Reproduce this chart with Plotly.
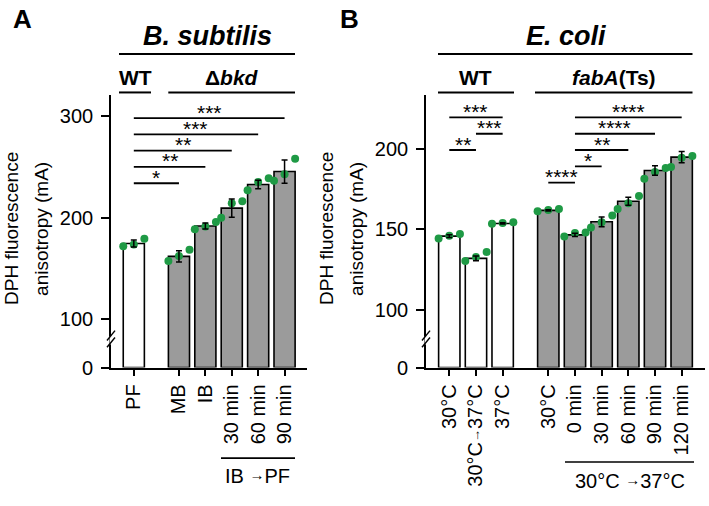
import plotly.graph_objects as go

W, H = 709, 506
FONT = "Arial, 'Liberation Sans', Helvetica, sans-serif"
GREEN = "#1f9a45"
GREY = "#9b9b9b"
ARROW = "<span style='font-size:15px;baseline-shift:3px'>→</span>"

# ---------------- Panel A: B. subtilis ----------------
a_labels = ["PF", "MB", "IB", "30 min", "60 min", "90 min"]
a_strain = ["WT", "Δbkd", "Δbkd", "Δbkd", "Δbkd", "Δbkd"]
a_mean = [174.7, 162.1, 192.0, 209.6, 232.8, 245.6]
a_err = [3.5, 5.5, 3.0, 9.0, 4.2, 11.5]
a_rep1 = [172.1, 157.6, 188.8, 200.0, 227.3, 236.6]
a_rep2 = [173.7, 162.4, 191.4, 214.5, 235.4, 243.0]
a_rep3 = [179.5, 168.6, 195.9, 216.4, 238.9, 258.2]
a_sig_pairs = [(0, 1), (0, 2), (0, 3), (0, 4), (0, 5)]
a_sig_text = ["*", "**", "**", "***", "***"]
a_yticks = [0, 100, 200, 300]

# ---------------- Panel B: E. coli ----------------
b_labels = ["30°C", "30°C<span style='font-size:13px;baseline-shift:2px'>→</span>37°C", "37°C",
            "30°C", "0 min", "30 min", "60 min", "90 min", "120 min"]
b_strain = ["WT", "WT", "WT", "fabA", "fabA", "fabA", "fabA", "fabA", "fabA"]
b_mean = [145.7, 131.9, 153.6, 161.7, 146.5, 154.6, 167.4, 186.5, 194.8]
b_err = [0.8, 1.5, 0.4, 0.4, 1.0, 3.0, 2.5, 3.0, 3.5]
b_rep1 = [144.3, 130.3, 153.4, 161.1, 145.5, 151.0, 162.5, 181.4, 188.7]
b_rep2 = [145.9, 132.7, 153.9, 161.9, 147.6, 154.3, 166.2, 185.5, 194.4]
b_rep3 = [147.0, 135.8, 154.3, 162.5, 147.9, 158.5, 170.7, 188.1, 195.6]
b_sig_pairs = [(0, 1), (1, 2), (0, 2), (3, 4), (4, 5), (4, 6), (4, 7), (4, 8)]
b_sig_text = ["**", "***", "***", "****", "*", "**", "****", "****"]
b_yticks = [0, 100, 150, 200]

# ---------------- layout helpers ----------------
GAP = 0.71  # extra space between strain groups


def positions(groups):
    pos, x, prev = [], 0.0, None
    for g in groups:
        if prev is not None:
            x += 1 + (GAP if g != prev else 0)
        pos.append(x)
        prev = g
    return pos


def px(x):
    return x / W


def py(y):
    return 1 - y / H


a_pos = positions(a_strain)
b_pos = positions(b_strain)

A_ZERO, A_TOP = 52.6, 321.4     # axis break: where "0" is drawn
B_ZERO, B_TOP = 64.0, 233.7
YDOM = [py(375.7), py(96.7)]

fig = go.Figure()


def add_panel(pos, mean, err, reps, strain, zero, xa, ya, wt_key):
    fills = ["white" if s == wt_key else GREY for s in strain]
    fig.add_trace(go.Bar(
        x=pos, y=[m - zero for m in mean], base=zero, width=0.8,
        marker=dict(color=fills, line=dict(color="black", width=1.6)),
        xaxis=xa, yaxis=ya, showlegend=False))
    for k, rep in enumerate(reps):
        off = (k - 1) * 0.4
        fig.add_trace(go.Scatter(
            x=[p + off for p in pos], y=rep, mode="markers",
            marker=dict(color=GREEN, size=8), xaxis=xa, yaxis=ya,
            showlegend=False))
    fig.add_trace(go.Scatter(
        x=pos, y=mean, mode="markers", marker=dict(size=0.1, color="black"),
        error_y=dict(type="data", array=err, color="black", thickness=1.5, width=3),
        xaxis=xa, yaxis=ya, showlegend=False))


add_panel(a_pos, a_mean, a_err, [a_rep1, a_rep2, a_rep3], a_strain, A_ZERO, "x", "y", "WT")
add_panel(b_pos, b_mean, b_err, [b_rep1, b_rep2, b_rep3], b_strain, B_ZERO, "x2", "y2", "WT")

axis_common = dict(showline=True, linecolor="black", linewidth=1.6, ticks="outside",
                   tickcolor="black", tickwidth=1.6, showgrid=False, zeroline=False,
                   tickfont=dict(family=FONT, size=20, color="black"))

fig.update_layout(
    width=W, height=H, margin=dict(l=0, r=0, t=0, b=0),
    paper_bgcolor="white", plot_bgcolor="white", showlegend=False,
    xaxis=dict(domain=[px(111), px(307)], range=[-0.864, 6.56], anchor="y",
               tickvals=a_pos, ticktext=a_labels, tickangle=-90, ticklen=7, **axis_common),
    yaxis=dict(domain=YDOM, range=[A_ZERO, A_TOP], anchor="x",
               tickvals=[A_ZERO if t == 0 else t for t in a_yticks],
               ticktext=[str(t) for t in a_yticks], ticklen=8, ticklabelstandoff=4,
               **axis_common),
    xaxis2=dict(domain=[px(426), px(705)], range=[-0.873, 9.584], anchor="y2",
                tickvals=b_pos, ticktext=b_labels, tickangle=-90, ticklen=7, **axis_common),
    yaxis2=dict(domain=YDOM, range=[B_ZERO, B_TOP], anchor="x2",
                tickvals=[B_ZERO if t == 0 else t for t in b_yticks],
                ticktext=[str(t) for t in b_yticks], ticklen=8, ticklabelstandoff=4,
                **axis_common),
)

shapes, anns = [], []


def sig(pos, pairs, texts, base, step, xr, yr, start=0):
    for i, ((a, b), t) in enumerate(zip(pairs, texts)):
        lvl = base + step * (i + start)
        shapes.append(dict(type="line", xref=xr, yref=yr, x0=pos[a], x1=pos[b],
                           y0=lvl, y1=lvl, line=dict(color="black", width=1.8)))
        anns.append(dict(xref=xr, yref=yr, x=(pos[a] + pos[b]) / 2, y=lvl, text=t,
                         showarrow=False, yanchor="middle", yshift=6,
                         font=dict(family=FONT, size=21, color="black")))


sig(a_pos, a_sig_pairs, a_sig_text, 234.1, 16.05, "x", "y")
sig(b_pos, b_sig_pairs[:3], b_sig_text[:3], 179.0, 10.12, "x2", "y2", start=2)
sig(b_pos, b_sig_pairs[3:], b_sig_text[3:], 179.0, 10.12, "x2", "y2", start=0)


def hline(x0, x1, y, w=2):
    shapes.append(dict(type="line", xref="paper", yref="paper", x0=px(x0), x1=px(x1),
                       y0=py(y), y1=py(y), line=dict(color="black", width=w)))


def text(x, y, t, size, angle=0):
    anns.append(dict(xref="paper", yref="paper", x=px(x), y=py(y), text=t, showarrow=False,
                     xanchor="center", yanchor="middle", textangle=angle,
                     font=dict(family=FONT, size=size, color="black")))


# headers
text(22, 19, "<b>A</b>", 26)
text(349, 19, "<b>B</b>", 26)
text(207, 37, "<b><i>B. subtilis</i></b>", 27)
hline(119, 295, 55.3)
text(135, 79, "<b>WT</b>", 21)
hline(119, 151, 94.5)
text(231.7, 79, "<b>Δ<i>bkd</i></b>", 21)
hline(168.3, 295, 94.5)
text(565.5, 37, "<b><i>E. coli</i></b>", 27)
hline(438, 692.5, 55.3)
text(476, 79, "<b>WT</b>", 21)
hline(438, 514, 94.5)
text(613.5, 79, "<b><i>fabA</i>(Ts)</b>", 21)
hline(535, 692.5, 94.5)

# y titles
text(12, 234, "DPH fluorescence", 19, angle=-90)
text(42, 234, "anisotropy (mA)", 19, angle=-90)
text(327, 234, "DPH fluorescence", 19, angle=-90)
text(357, 234, "anisotropy (mA)", 19, angle=-90)

# bottom group labels
hline(221, 295, 468.3, 1.6)
text(257.5, 487, "IB " + ARROW + "PF", 20)
hline(565, 694, 472.3, 1.6)
text(629.5, 491.5, "30°C " + ARROW + "37°C", 20)

# axis break marks (gap in the axis line + two slashes)
for x in (111, 426):
    shapes.append(dict(type="line", xref="paper", yref="paper",
                       x0=px(x), x1=px(x), y0=py(344), y1=py(352),
                       line=dict(color="white", width=3)))
    for dy in (0, 7):
        shapes.append(dict(type="line", xref="paper", yref="paper",
                           x0=px(x - 4), y0=py(351 + dy - 3), x1=px(x + 4), y1=py(341 + dy - 3),
                           line=dict(color="black", width=1.4)))

fig.update_layout(shapes=shapes, annotations=anns)
# remove the default page margin so the figure starts at the window's corner
fig.write_html("out.html", config={"displayModeBar": False},
               post_script="document.body.style.margin='0px';")
